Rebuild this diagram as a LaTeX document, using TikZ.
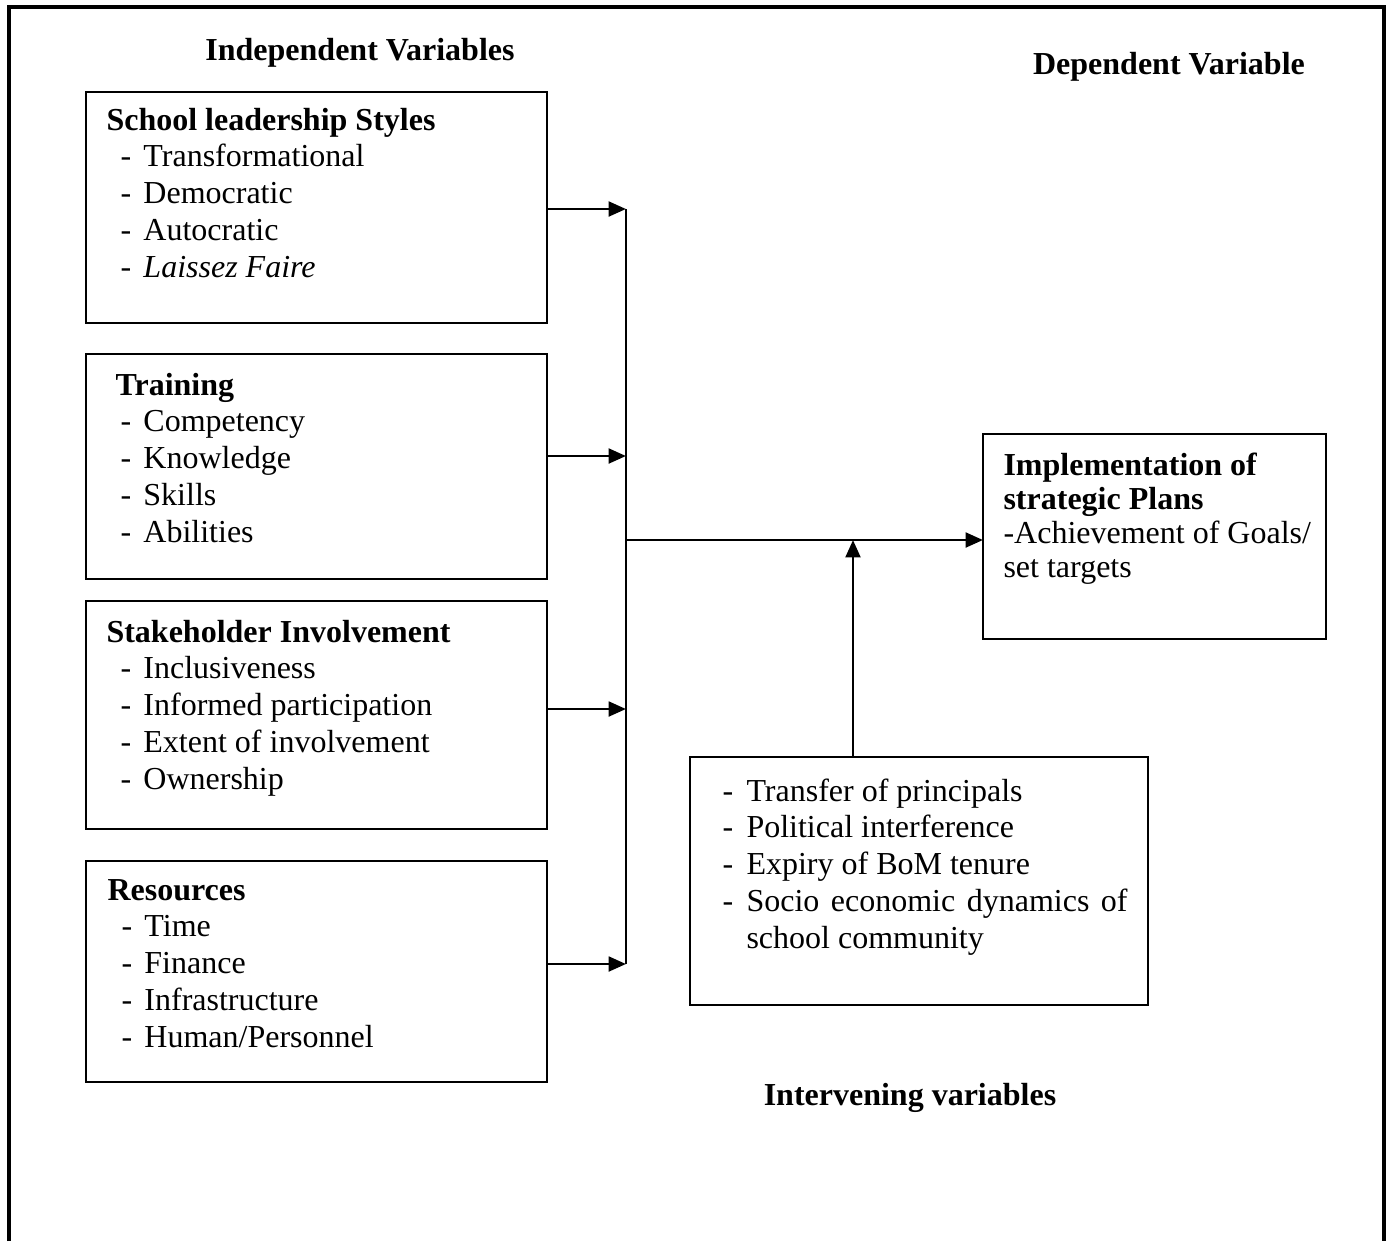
\documentclass[tikz,border=0pt]{standalone}
\usepackage{fontspec}
\setmainfont{Liberation Serif}
\usetikzlibrary{arrows.meta}
\newcommand{\li}{\hspace*{5.25pt}\makebox[8.6pt][l]{-}}

\begin{document}
\begin{tikzpicture}
  [x=0.375pt,y=-0.375pt,
   box/.style={draw,line width=0.8pt,rectangle,inner sep=0pt,outer sep=0pt,anchor=north west,minimum width=172.9pt},
   txt/.style={anchor=base west,inner sep=0pt,font=\fontsize{12}{13.8}\selectfont},
   head/.style={anchor=base,inner sep=0pt,font=\fontsize{12}{13.8}\selectfont\bfseries},
   arr/.style={line width=1.1pt,-{Triangle[length=6.5pt,width=5.5pt]}}]
  \useasboundingbox (0,0) rectangle (1391,1241);
  \draw[line width=1.4pt] (9,1241) -- (9,7) -- (1384,7) -- (1384,1241);

  % headings
  \node[head] (indep) at (360,60) {Independent Variables};
  \node[head] (dep) at (1169,74) {Dependent Variable};
  \node[head] (interh) at (910,1105) {Intervening variables};

  % boxes
  \node[box,minimum height=86.6pt] (lead) at (86,92) {};
  \node[box,minimum height=84.4pt] (train) at (86,354) {};
  \node[box,minimum height=85.5pt] (stake) at (86,601) {};
  \node[box,minimum height=82.9pt] (res) at (86,861) {};
  \node[box,minimum width=128.6pt,minimum height=76.9pt] (impl) at (983,434) {};
  \node[box,minimum width=171.8pt,minimum height=93pt] (interv) at (690,757) {};

  % box texts
  \node[txt] (leadtxt) at (106,130) {\begin{tabular}[t]{@{}l@{}}
    \textbf{School leadership Styles}\\
    \li Transformational\\ \li Democratic\\ \li Autocratic\\ \li\textit{Laissez Faire}
  \end{tabular}};
  \node[txt] (traintxt) at (106,395) {\begin{tabular}[t]{@{}l@{}}
    \hspace*{3.4pt}\textbf{Training}\\
    \li Competency\\ \li Knowledge\\ \li Skills\\ \li Abilities
  \end{tabular}};
  \node[txt] (staketxt) at (106,642) {\begin{tabular}[t]{@{}l@{}}
    \textbf{Stakeholder Involvement}\\
    \li Inclusiveness\\ \li Informed participation\\ \li Extent of involvement\\ \li Ownership
  \end{tabular}};
  \node[txt] (restxt) at (107,900) {\begin{tabular}[t]{@{}l@{}}
    \textbf{Resources}\\
    \li Time\\ \li Finance\\ \li Infrastructure\\ \li Human/Personnel
  \end{tabular}};
  \node[txt,font=\fontsize{12}{12.75}\selectfont] (impltxt) at (1003,475) {\begin{tabular}[t]{@{}l@{}}
    \textbf{Implementation of}\\ \textbf{strategic Plans}\\
    -Achievement of Goals/\\ set targets
  \end{tabular}};
  \node[txt] (intervtxt) at (722,801) {\begin{tabular}[t]{@{}l@{}}
    \makebox[9pt][l]{-}Transfer of principals\\
    \makebox[9pt][l]{-}Political interference\\
    \makebox[9pt][l]{-}Expiry of BoM tenure\\
    \makebox[9pt][l]{-}\makebox[142.9pt][s]{Socio economic dynamics of}\\
    \hspace*{9pt}school community
  \end{tabular}};

  % connectors
  \foreach \b/\y in {lead/209,train/456,stake/709,res/964} {
    \coordinate (\b-in) at (626,\y);
    \draw[arr] (\b.east |- \b-in) -- (\b-in);
  }
  \draw[line width=1.1pt] (lead-in) -- (res-in);
  \coordinate (hub) at (626,540);
  \coordinate (meet) at (853,540);
  \draw[arr] (hub) -- (hub -| impl.west);
  \draw[arr] (meet |- interv.north) -- (meet);

\end{tikzpicture}
\end{document}
